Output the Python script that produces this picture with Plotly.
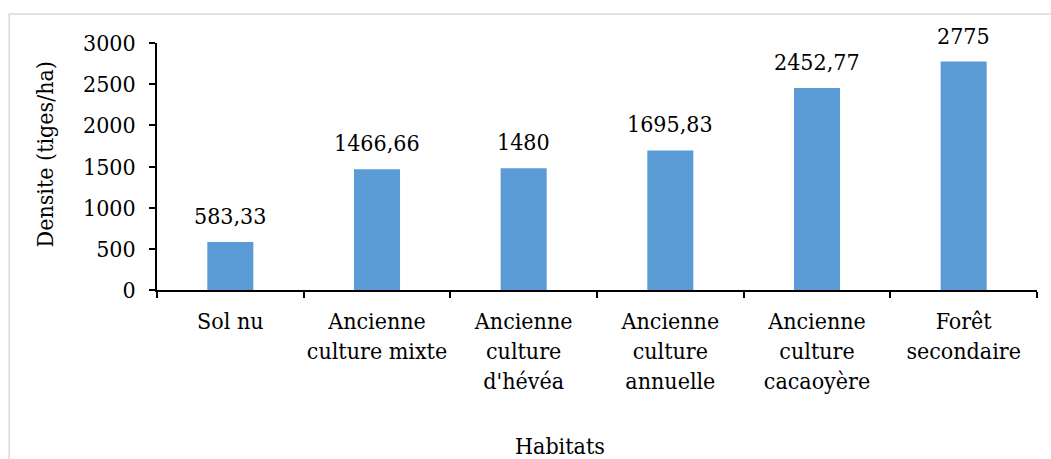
import plotly.graph_objects as go

# Stem density by habitat type
categories = [
    "Sol nu",
    "Ancienne<br>culture mixte",
    "Ancienne<br>culture<br>d'hévéa",
    "Ancienne<br>culture<br>annuelle",
    "Ancienne<br>culture<br>cacaoyère",
    "Forêt<br>secondaire",
]
densities = [583.33, 1466.66, 1480, 1695.83, 2452.77, 2775]
y_ticks = [0, 500, 1000, 1500, 2000, 2500, 3000]

FONT = "DejaVu Serif Condensed, DejaVu Serif"
BAR_COLOR = "#5B9BD5"
FS = 23


def fr_number(v):
    s = f"{v:.2f}".rstrip("0").rstrip(".")
    return s.replace(".", ",")


fig = go.Figure(
    go.Bar(
        x=categories,
        y=densities,
        marker=dict(color=BAR_COLOR, line=dict(width=0)),
        hoverinfo="skip",
    )
)

# value labels above each bar
for cat, v in zip(categories, densities):
    fig.add_annotation(
        x=cat, y=v, xref="x", yref="y",
        text=fr_number(v), showarrow=False,
        yanchor="bottom", yshift=11,
        font=dict(family=FONT, size=FS, color="black"),
    )

# axis titles
fig.add_annotation(
    x=-0.144, y=0.55, xref="paper", yref="paper",
    text="Densite (tiges/ha)", textangle=-90, showarrow=False,
    font=dict(family=FONT, size=FS, color="black"),
)
fig.add_annotation(
    x=0.458, y=-0.693, xref="paper", yref="paper",
    text="Habitats", showarrow=False,
    font=dict(family=FONT, size=FS, color="black"),
)

# outer frame of the chart area
fig.add_shape(
    type="rect", xref="paper", yref="paper",
    x0=-0.168, x1=1.2, y0=-0.9, y1=1.117,
    line=dict(color="#d9d9d9", width=1.5), layer="below",
)

fig.update_layout(
    width=1051, height=459,
    margin=dict(l=157, r=14, t=43, b=169),
    paper_bgcolor="white", plot_bgcolor="white",
    bargap=0.686,
    showlegend=False,
    font=dict(family=FONT, size=FS, color="black"),
)
fig.update_xaxes(
    type="category", tickangle=0, automargin=False,
    showline=True, linecolor="black", linewidth=1.5,
    ticks="outside", tickson="boundaries", ticklen=6,
    tickcolor="black", tickwidth=1.5, ticklabelstandoff=10,
    showgrid=False, zeroline=False,
    tickfont=dict(family=FONT, size=FS, color="black"),
)
fig.update_yaxes(
    range=[0, 3000], tickvals=y_ticks, automargin=False,
    showline=True, linecolor="black", linewidth=1.5,
    ticks="outside", ticklen=6, tickcolor="black", tickwidth=1.5,
    ticklabelstandoff=9,
    showgrid=False, zeroline=False,
    tickfont=dict(family=FONT, size=FS, color="black"),
)

fig.write_html("out.html")
